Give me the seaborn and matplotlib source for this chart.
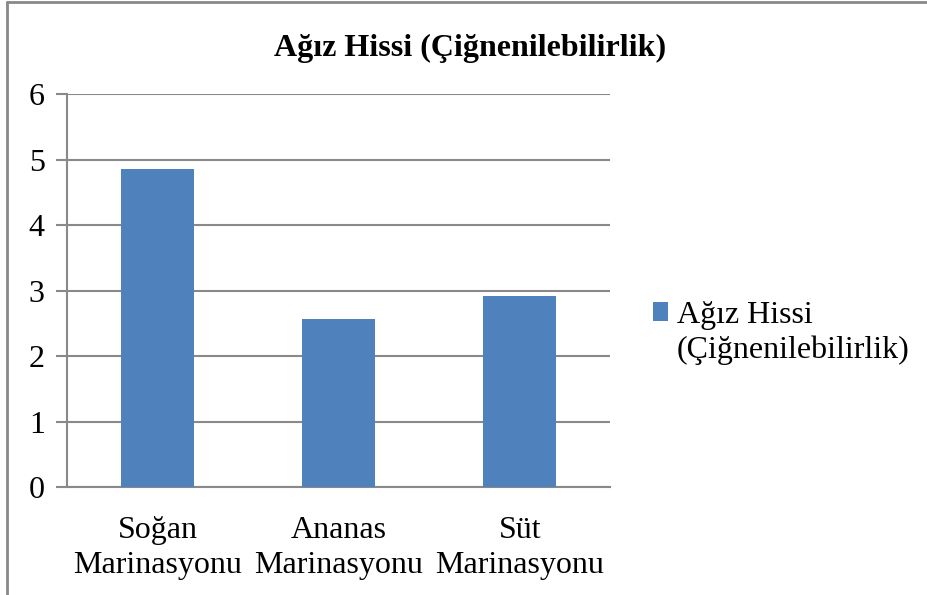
import matplotlib
matplotlib.use("Agg")
import matplotlib.pyplot as plt
import seaborn as sns
from matplotlib.lines import Line2D

# data
categories = ["Soğan\nMarinasyonu", "Ananas\nMarinasyonu", "Süt\nMarinasyonu"]
values = [4.86, 2.57, 2.92]
series_name = ["Ağız Hissi", "(Çiğnenilebilirlik)"]
title = "Ağız Hissi (Çiğnenilebilirlik)"
y_ticks = [0, 1, 2, 3, 4, 5, 6]

sns.set_style("white")
plt.rcParams["font.family"] = ["Liberation Serif", "DejaVu Serif"]
plt.rcParams["text.color"] = "black"

bar_colour = "#4F81BD"
grey = "#898989"

fig = plt.figure(figsize=(9.27, 5.95), dpi=100)
ax = fig.add_axes([0.0723, 0.1815, 0.586, 0.660])

sns.barplot(x=categories, y=values, color=bar_colour, width=0.4,
            saturation=1, linewidth=0, label=series_name[0], ax=ax, zorder=3)
if ax.get_legend() is not None:
    ax.get_legend().remove()

ax.set_ylim(0, 6)
ax.set_xlim(-0.5, 2.5)
ax.set_yticks(y_ticks)
ax.set_yticklabels([str(t) for t in y_ticks], fontsize=23)
ax.yaxis.grid(True, color=grey, linewidth=1.5, zorder=0)
ax.set_axisbelow(True)

# category labels centred, tick marks on the boundaries
ax.set_xticks([0, 1, 2])
ax.set_xticklabels(categories, fontsize=23, linespacing=1.28)
ax.tick_params(axis="x", which="major", length=0, pad=21, labelcolor="black")
ax.set_xticks([-0.5, 0.5, 1.5, 2.5], minor=True)
ax.tick_params(axis="x", which="minor", length=8, width=1.5, color=grey, direction="out")
ax.tick_params(axis="y", length=8, width=1.5, color=grey, direction="out", pad=8,
               left=True, labelcolor="black")

for side in ["top", "right"]:
    ax.spines[side].set_visible(False)
for side in ["left", "bottom"]:
    ax.spines[side].set_color(grey)
    ax.spines[side].set_linewidth(1.5)

ax.set_xlabel("")
ax.set_ylabel("")

fig.text(0.507, 0.918, title, ha="center", va="center", fontsize=23,
         fontweight="bold", color="black")

# legend: marker sits beside the first line, second line wraps under the text
handles, labels = ax.get_legend_handles_labels()
fig.legend(handles, labels, loc="center left", bbox_to_anchor=(0.7044, 0.470),
           frameon=False, fontsize=23, handlelength=0.47, handleheight=0.5,
           handletextpad=0.28, borderpad=0, borderaxespad=0, labelcolor="black")
fig.text(0.730, 1 - 358 / 595, series_name[1], ha="left", va="baseline",
         fontsize=23, color="black")

# chart frame (only left and top visible in the reference)
fig.add_artist(Line2D([0.008, 0.008], [0, 0.996], transform=fig.transFigure, color=grey, linewidth=2))
fig.add_artist(Line2D([0.008, 1.0], [0.996, 0.996], transform=fig.transFigure, color=grey, linewidth=2))

fig.savefig("out.png", dpi=100)
